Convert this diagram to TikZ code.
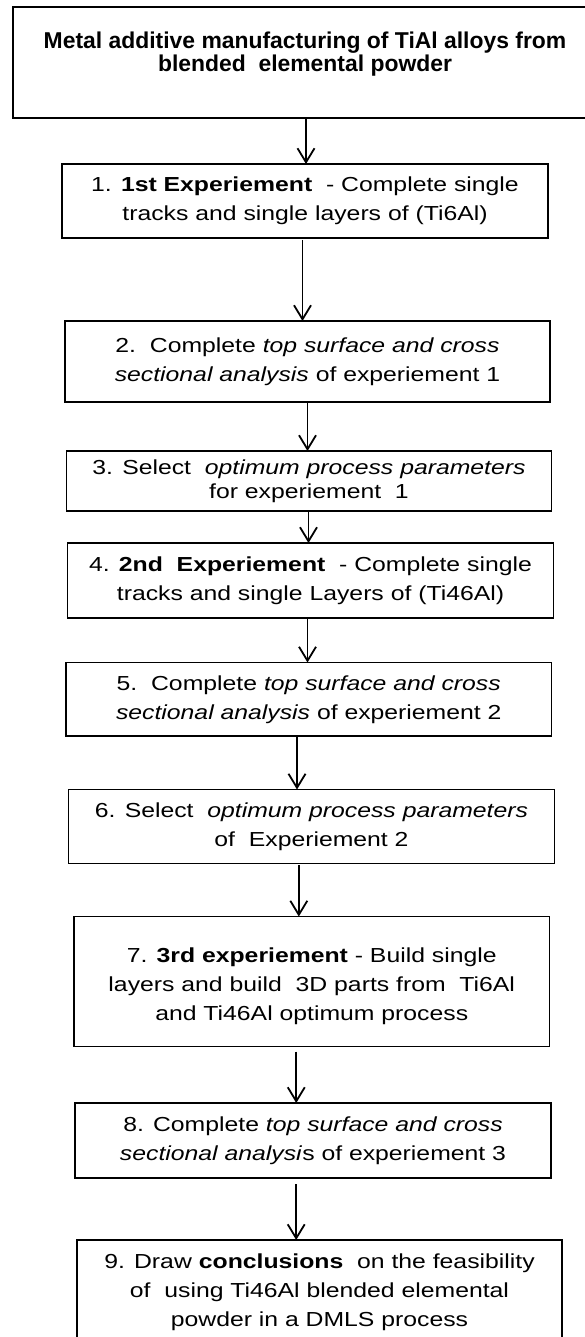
\documentclass[tikz,border=0pt]{standalone}
\usepackage{fontspec}
\setmainfont{Liberation Sans}[FakeStretch=1.22]
\newfontfamily\headfont{Liberation Sans}
\usetikzlibrary{arrows.meta}
\begin{document}
\begin{tikzpicture}[x=1pt,y=-1pt,
  stepbox/.style={draw=black, line width=1.2pt, rectangle, anchor=north west,
    inner sep=0pt, outer sep=0pt, align=center,
    font=\fontsize{20.3}{29}\selectfont},
  headbox/.style={stepbox, line width=2.4pt,
    font=\headfont\bfseries\fontsize{22.9}{23}\selectfont},
  flow/.style={line width=1.8pt, -{Straight Barb[length=14pt,width=17pt]}}]
\useasboundingbox (0,0) rectangle (585,1337);

% title box (runs off the right edge)
\node[headbox, minimum width=584pt, minimum height=111pt] (top) at (13,7)
  {Metal additive manufacturing of TiAl alloys from\\blended\ \ elemental powder\\[-1pt]\mbox{}};

% process steps
\node[stepbox, minimum width=486pt, minimum height=74pt] (s1) at (62,164)
  {1. \textbf{1st Experiement}\ \ - Complete single\\tracks and single layers of (Ti6Al)};
\node[stepbox, minimum width=485pt, minimum height=81pt] (s2) at (65,321)
  {2.\ \ Complete \textit{top surface and cross}\\\textit{sectional analysis} of experiement\ 1};
\node[stepbox, minimum width=485pt, minimum height=60pt,
      font=\fontsize{20.3}{24}\selectfont] (s3) at (66.5,451)
  {3. Select\ \ \textit{optimum process parameters}\\for experiement\ \ 1};
\node[stepbox, minimum width=486pt, minimum height=75pt] (s4) at (67.5,543)
  {4. \textbf{2nd\ \ Experiement}\ \ - Complete single\\tracks and single Layers of (Ti46Al)};
\node[stepbox, minimum width=485.5pt, minimum height=73.5pt] (s5) at (66,662.5)
  {5.\ \ Complete \textit{top surface and cross}\\\textit{sectional analysis} of experiement\ 2};
\node[stepbox, minimum width=486pt, minimum height=74pt] (s6) at (68.5,789.5)
  {6. Select\ \ \textit{optimum process parameters}\\of\ \ Experiement\ 2};
\node[stepbox, minimum width=475.5pt, minimum height=130pt] (s7) at (74,916.5)
  {\rule{0pt}{25pt}7. \textbf{3rd experiement} - Build single\\layers and build\ \ 3D parts from\ \ Ti6Al\\and Ti46Al optimum process};
\node[stepbox, minimum width=476pt, minimum height=75pt] (s8) at (75,1103)
  {8. Complete \textit{top surface and cross}\\\textit{sectional analysi}s of experiement\ 3};
\node[stepbox, minimum width=485pt, minimum height=104pt] (s9) at (77,1240)
  {9. Draw \textbf{conclusions}\ \ on the feasibility\\of\ \ using Ti46Al blended elemental\\powder in a DMLS process};

% connectors
\draw[flow] ([xshift=1pt]top.south) -- ([xshift=1pt]top.south |- s1.north);
\draw[flow] ([xshift=-2.5pt,yshift=-2pt]s1.south) -- ([xshift=-2.5pt]s1.south |- s2.north);
\draw[flow] ([yshift=-1pt]s2.south) -- (s2.south |- s3.north);
\draw[flow] ([xshift=-0.5pt]s3.south) -- ([xshift=-0.5pt]s3.south |- s4.north);
\draw[flow] ([xshift=-3pt]s4.south) -- ([xshift=-3pt]s4.south |- s5.north);
\draw[flow] ([xshift=-11.75pt]s5.south) -- ([xshift=-11.75pt]s5.south |- s6.north);
\draw[flow] ([xshift=-12.7pt,yshift=-1.5pt]s6.south) -- ([xshift=-12.7pt]s6.south |- s7.north);
\draw[flow] ([xshift=-15.5pt,yshift=-5pt]s7.south) -- ([xshift=-15.5pt]s7.south |- s8.north);
\draw[flow] ([xshift=-16.8pt,yshift=-6pt]s8.south) -- ([xshift=-16.8pt]s8.south |- s9.north);
\end{tikzpicture}
\end{document}
